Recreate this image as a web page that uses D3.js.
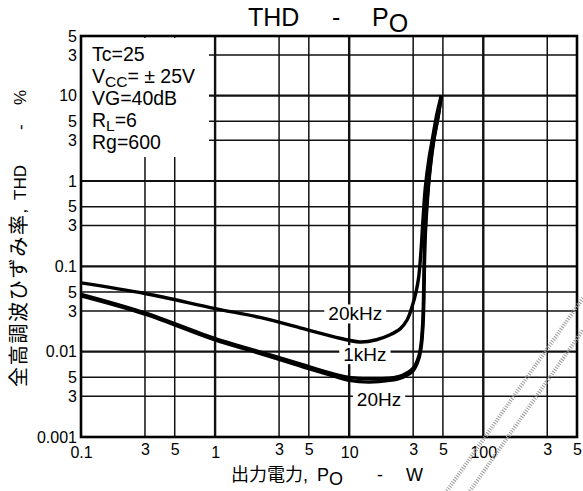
<!DOCTYPE html>
<html>
<head>
<meta charset="utf-8">
<script src="https://cdn.jsdelivr.net/npm/d3@7"></script>
<style>
  html, body { margin: 0; padding: 0; background: #fff; }
  svg { display: block; }
  text { font-family: "Liberation Sans", Arial, "Noto Sans CJK JP", sans-serif; fill: #000; }
  .cjk { font-family: "Noto Sans CJK JP", "Liberation Sans", sans-serif; }
</style>
</head>
<body>
<script>
// ---- data ----
const xDomain = [0.1, 500];
const yDomain = [0.001, 50];
const xGrid = [0.3, 0.5, 1, 3, 5, 10, 30, 50, 100, 300];
const xMajor = [1, 10, 100];
const yGrid = [30, 10, 5, 3, 1, 0.5, 0.3, 0.1, 0.05, 0.03, 0.01, 0.005, 0.003];
const yMajor = [10, 1, 0.1, 0.01];
const xTickValues = [0.1, 0.3, 0.5, 1, 3, 5, 10, 30, 50, 100, 300, 500];
const xTickLabels = ["0.1", "3", "5", "1", "3", "5", "10", "3", "5", "100", "3", "5"];
const yTickValues = [50, 30, 10, 5, 3, 1, 0.5, 0.3, 0.1, 0.05, 0.03, 0.01, 0.005, 0.003, 0.001];
const yTickLabels = ["5", "3", "10", "5", "3", "1", "5", "3", "0.1", "5", "3", "0.01", "5", "3", "0.001"];

const seriesNames = ["20kHz", "1kHz", "20Hz"];
const po20k = [0.1, 0.3, 1, 2.2, 4.3, 7.6, 12, 16, 20, 24, 27, 29.5, 31.5, 33, 34.3, 35.5, 37, 39.3, 41.6, 45, 48.6];
const thd20k = [0.064, 0.048, 0.032, 0.025, 0.019, 0.015, 0.013, 0.0138, 0.0157, 0.0185, 0.0235, 0.034, 0.05, 0.075, 0.15, 0.35, 0.85, 1.8, 3.0, 6.0, 10];
const po1k = [0.1, 0.3, 1, 2, 4.3, 7.6, 10, 14, 20, 25, 30, 33, 34.5, 35.5, 36, 36.6, 37.8, 40, 42.6, 46.3, 48.6];
const thd1k = [0.047, 0.0285, 0.0142, 0.0103, 0.0072, 0.0055, 0.0050, 0.0048, 0.0049, 0.0053, 0.0064, 0.0088, 0.013, 0.025, 0.06, 0.2, 0.5, 1.4, 3.0, 6.0, 10];
const po20 = [0.1, 0.3, 1, 2, 4.3, 7.6, 10, 14, 20, 25, 30, 33, 34.6, 35.7, 36.2, 36.8, 38, 40.2, 42.8, 46.4, 48.6];
const thd20 = [0.045, 0.0275, 0.0137, 0.0099, 0.0068, 0.0052, 0.0046, 0.0044, 0.0046, 0.0050, 0.0060, 0.0082, 0.012, 0.024, 0.06, 0.2, 0.5, 1.4, 3.0, 6.0, 10];
const labelPo = [11.1, 13.1, 16.7];
const labelThd = [0.03, 0.01, 0.003];

const legendLines = [
  [["Tc=25", 0]],
  [["V", 0], ["CC", 1], ["= \u00b1 25V", 0]],
  [["VG=40dB", 0]],
  [["R", 0], ["L", 1], ["=6", 0]],
  [["Rg=600", 0]]
];

// ---- chart ----
const W = 583, H = 491;
const svg = d3.select("body").append("svg").attr("width", W).attr("height", H);

const x = d3.scaleLog().domain(xDomain).range([81, 577]);
const y = d3.scaleLog().domain(yDomain).range([437, 36]);

const grid = svg.append("g");
grid.selectAll("line.v").data(xGrid).join("line")
  .attr("x1", d => x(d)).attr("x2", d => x(d))
  .attr("y1", y(yDomain[1])).attr("y2", y(yDomain[0]))
  .attr("stroke", "#111")
  .attr("stroke-width", d => xMajor.includes(d) ? 2.4 : 1.5);
grid.selectAll("line.h").data(yGrid).join("line")
  .attr("y1", d => y(d)).attr("y2", d => y(d))
  .attr("x1", x(xDomain[0])).attr("x2", x(xDomain[1]))
  .attr("stroke", "#111")
  .attr("stroke-width", d => yMajor.includes(d) ? 2.2 : 1.5);

// legend white box (hides grid)
svg.append("rect").attr("x", 82).attr("y", 38).attr("width", 127).attr("height", 119).attr("fill", "#fff");

// curves
const series = [
  po20k.map((p, i) => [p, thd20k[i]]),
  po1k.map((p, i) => [p, thd1k[i]]),
  po20.map((p, i) => [p, thd20[i]])
];
const line = d3.line().x(d => x(d[0])).y(d => y(d[1])).curve(d3.curveCatmullRom.alpha(0.5));
svg.append("g").selectAll("path").data(series).join("path")
  .attr("d", line).attr("fill", "none").attr("stroke", "#000")
  .attr("stroke-width", 3.4).attr("stroke-linejoin", "round");

// curve labels with white background
const lab = svg.append("g");
seriesNames.forEach((name, i) => {
  const t = lab.append("text")
    .attr("x", x(labelPo[i])).attr("y", y(labelThd[i]))
    .attr("dy", "0.5em").attr("text-anchor", "middle")
    .attr("font-size", 19).text(name);
  const bb = t.node().getBBox();
  lab.insert("rect", "text").attr("x", bb.x - 4).attr("y", bb.y + 1)
    .attr("width", bb.width + 8).attr("height", bb.height - 2).attr("fill", "#fff");
});

// frame
svg.append("rect").attr("x", 81).attr("y", 36).attr("width", 496).attr("height", 401)
  .attr("fill", "none").attr("stroke", "#000").attr("stroke-width", 2.6);

// axes labels (ticks)
const yAxis = d3.axisLeft(y).tickValues(yTickValues).tickSize(0).tickPadding(4)
  .tickFormat((d, i) => yTickLabels[i]);
const ga = svg.append("g").attr("transform", "translate(81,0)").call(yAxis);
ga.select(".domain").remove();
ga.selectAll("text").attr("font-size", 16).attr("font-family", null).attr("fill", "#000");

const xAxis = d3.axisBottom(x).tickValues(xTickValues).tickSize(0).tickPadding(10)
  .tickFormat((d, i) => xTickLabels[i]);
const gx = svg.append("g").attr("transform", "translate(0,437)").call(xAxis);
gx.select(".domain").remove();
gx.selectAll("text").attr("font-size", 16).attr("font-family", null).attr("fill", "#000")
  .attr("dy", (d, i) => xTickLabels[i].length === 1 && xTickLabels[i] !== "1" ? "0.52em" : "0.71em");

// legend text
const lg = svg.append("g");
legendLines.forEach((parts, i) => {
  const t = lg.append("text").attr("x", 92).attr("y", 61 + i * 22).attr("font-size", 19.5);
  let cur = 0;
  parts.forEach(([s, sub]) => {
    const target = sub ? 3.5 : 0;
    t.append("tspan").attr("font-size", sub ? 15.5 : 19.5)
      .attr("dy", target - cur).text(s);
    cur = target;
  });
});

// title
const title = svg.append("text").attr("y", 26).attr("font-size", 25);
title.append("tspan").attr("x", 248).text("THD");
title.append("tspan").attr("x", 332).text("-");
title.append("tspan").attr("x", 372).text("P");
title.append("tspan").attr("dy", 6).text("O");

// x axis title
const xt = svg.append("text").attr("y", 481).attr("font-size", 18);
xt.append("tspan").attr("x", 231).attr("class", "cjk").attr("font-size", 18).text("出力電力");
xt.append("tspan").text(",");
xt.append("tspan").attr("x", 317).text("P");
xt.append("tspan").attr("dy", 4).text("O");
xt.append("tspan").attr("x", 377).attr("dy", -4).text("-");
xt.append("tspan").attr("x", 406).text("W");

// y axis title
const yt = svg.append("text").attr("transform", "translate(26,387) rotate(-90)").attr("font-size", 17);
yt.append("tspan").attr("x", 0).attr("class", "cjk").attr("font-size", 20).attr("letter-spacing", 1.7).text("全高調波ひずみ率");
yt.append("tspan").text(",");
yt.append("tspan").attr("x", 187).text("THD");
yt.append("tspan").attr("x", 257).text("-");
yt.append("tspan").attr("x", 282).text("%");

// scan artefact hatch bands (decoration)
const bands = [[[447, 491], [583, 298]], [[470, 491], [583, 330]]];
svg.append("g").selectAll("line").data(bands).join("line")
  .attr("x1", d => d[0][0]).attr("y1", d => d[0][1])
  .attr("x2", d => d[1][0]).attr("y2", d => d[1][1])
  .attr("stroke", "#999").attr("stroke-width", 4).attr("stroke-dasharray", "1 1.5");
</script>
</body>
</html>
